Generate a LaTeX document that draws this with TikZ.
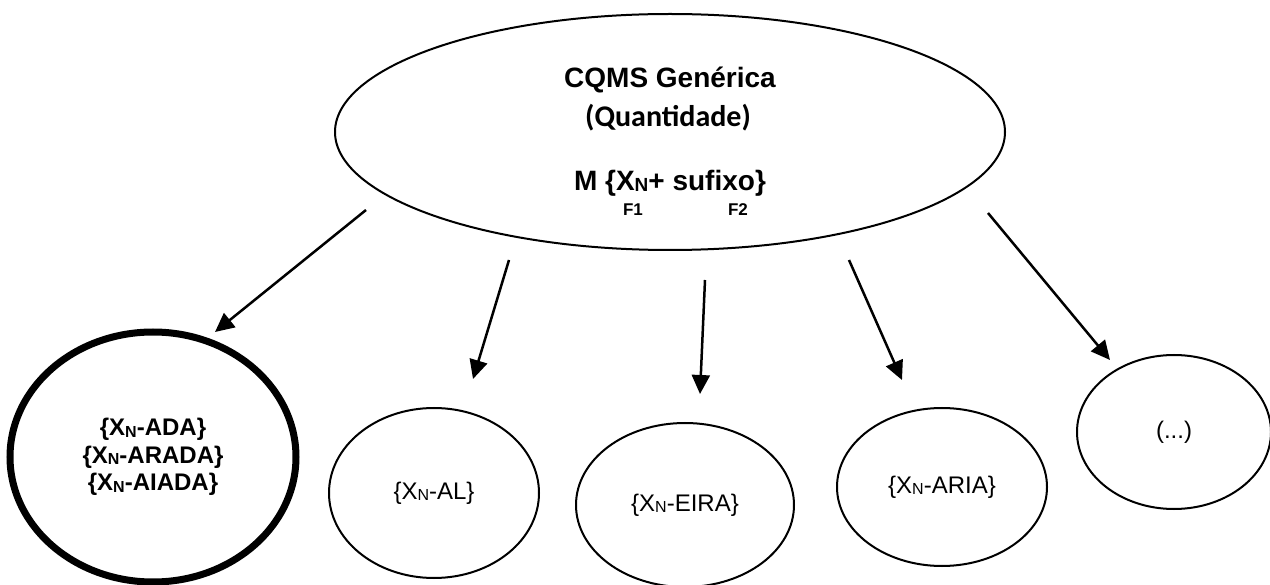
\documentclass[tikz,border=0pt]{standalone}
\usepackage{fontspec}
\setmainfont{Liberation Sans}
\newfontfamily\calfont{Carlito}
\usetikzlibrary{shapes.geometric,arrows.meta}
\newcommand\xnsub[2]{X\raisebox{-#2}{\fontsize{#1}{#1}\selectfont N}}
\tikzset{
  oval/.style={draw=black,ellipse,line width=2pt,inner sep=0pt,align=center},
  thickoval/.style={oval,line width=7pt},
  arr/.style={line width=2.5pt,-{Triangle[length=19pt,width=18pt]}},
  big/.style={font=\fontsize{28}{32}\selectfont\bfseries},
  small/.style={font=\fontsize{17}{19}\selectfont\bfseries},
  lab/.style={font=\fontsize{24}{28}\selectfont},
}
\begin{document}
\begin{tikzpicture}[x=1pt,y=-1pt]
\useasboundingbox[fill=white] (0,0) rectangle (1270,585);
% top ellipse
\node[oval,minimum width=670pt,minimum height=236pt] (top) at (670,132) {};
\node[big] (t1) at (670,80) {CQMS Genérica};
\node[font=\fontsize{30}{34}\selectfont\calfont\bfseries] (t2) at (668,118) {(Quantidade)};
\node[big] (t3) at (670,183) {M \{\xnsub{19pt}{1.5pt}+ sufixo\}};
\node[small] (f1) at (633,210) {F1};
\node[small] (f2) at (738,210) {F2};
% bottom ellipses
\node[thickoval,minimum width=286pt,minimum height=250pt,
      font=\fontsize{24}{27.5}\selectfont\bfseries] (ada) at (153,457)
  {\{\xnsub{16pt}{1.5pt}-ADA\}\\\{\xnsub{16pt}{1.5pt}-ARADA\}\\\{\xnsub{16pt}{1.5pt}-AIADA\}};
\node[oval,lab,minimum width=210pt,minimum height=170pt] (al) at (434,493) {\{\xnsub{16pt}{1.5pt}-AL\}};
\node[oval,lab,minimum width=218pt,minimum height=164pt] (eira) at (685,505) {\{\xnsub{16pt}{1.5pt}-EIRA\}};
\node[oval,lab,minimum width=210pt,minimum height=158pt] (aria) at (942,487) {\{\xnsub{16pt}{1.5pt}-ARIA\}};
\node[oval,lab,minimum width=194pt,minimum height=154pt] (etc) at (1174,432) {(...)};
% arrow ends
\coordinate (s1) at (366,210); \coordinate (e1) at (215,332);
\coordinate (s2) at (509,260); \coordinate (e2) at (473,379);
\coordinate (s3) at (705,280); \coordinate (e3) at (700,394);
\coordinate (s4) at (849,260); \coordinate (e4) at (902,380);
\coordinate (s5) at (988,213); \coordinate (e5) at (1110,360);
\draw[arr] (s1) -- (e1);
\draw[arr] (s2) -- (e2);
\draw[arr] (s3) -- (e3);
\draw[arr] (s4) -- (e4);
\draw[arr] (s5) -- (e5);
\end{tikzpicture}
\end{document}
